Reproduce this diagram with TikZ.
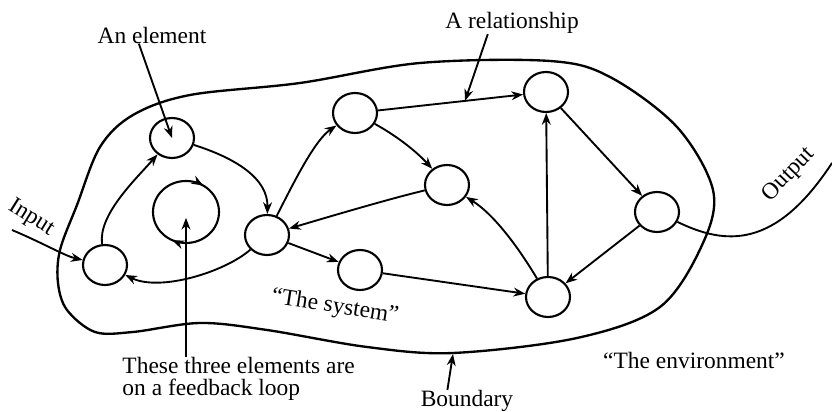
\documentclass[tikz,border=0pt]{standalone}
\usepackage{fontspec}
\setmainfont{Liberation Serif}
\usetikzlibrary{arrows.meta,shapes.geometric,calc,decorations.markings}

\begin{document}
\begin{tikzpicture}[x=0.015cm,y=-0.015cm,
  elem/.style={draw,ellipse,line width=0.9pt,minimum width=0.66cm,minimum height=0.6cm,inner sep=0pt},
  rel/.style={line width=0.8pt,-{Stealth[length=5pt,width=3.8pt]}},
  lbl/.style={inner sep=0pt,font=\fontsize{10}{9.5}\selectfont}]
\useasboundingbox (0,0) rectangle (832,412);
\draw[line width=1pt] plot[smooth cycle,tension=0.55] coordinates {(60,250) (77,205) (100,147) (133,115) (190,95) (300,83) (420,63) (550,61) (610,77) (677,127) (713,190) (703,243) (660,307) (577,338) (453,353) (367,347) (267,330) (200,323) (133,332) (95,332) (67,310) (58,283)};
\node[elem] (in) at (105,265) {};
\node[elem] (el) at (172,138) {};
\node[elem] (hub) at (267,235) {};
\node[elem] (e1) at (355,113) {};
\node[elem] (e2) at (447,185) {};
\node[elem] (e3) at (360,270) {};
\node[elem] (e4) at (546,92) {};
\node[elem] (e5) at (657,212) {};
\node[elem] (e6) at (548,297) {};
\coordinate (loop) at (186,212);
\draw[line width=0.9pt,postaction={decorate},decoration={markings,
  mark=at position 0.32 with {\arrow{Stealth[length=5pt,width=3.8pt]}},
  mark=at position 0.84 with {\arrow{Stealth[length=5pt,width=3.8pt]}}}]
  (loop) circle[x radius=33,y radius=31];
\coordinate (src) at (12,230);
\coordinate (sink) at (832,163);
\coordinate (bndpt) at (453,354);
\draw[rel] (src) .. controls (45,244) and (65,256) .. (in);
\draw[rel] (in) .. controls (98,215) and (135,180) .. (el);
\draw[rel] (el) .. controls (235,158) and (268,178) .. (hub);
\draw[rel] (hub) .. controls (225,272) and (160,292) .. (in);
\draw[rel] (hub) .. controls (295,180) and (315,140) .. (e1);
\draw[rel] (e2) .. controls (385,200) and (325,218) .. (hub);
\draw[rel] (e1) .. controls (395,135) and (415,150) .. (e2);
\draw[rel] (e1) -- coordinate[pos=0.6] (relpt) (e4);
\draw[rel] (hub) -- (e3);
\draw[rel] (e3) -- (e6);
\draw[rel] (e6) .. controls (520,250) and (495,215) .. (e2);
\draw[rel] (e6) -- (e4);
\draw[rel] (e4) -- (e5);
\draw[rel] (e5) -- (e6);
\draw[line width=0.8pt] (e5) .. controls (725,245) and (775,250) .. (sink);
\node[lbl] (ellbl) at (152,35) {An element};
\draw[rel] ($(ellbl.south west)!0.38!(ellbl.south east)$) -- (el.center);
\node[lbl] (rellbl) at (512,23) {A relationship};
\draw[rel] ($(rellbl.south west)!0.32!(rellbl.south east)$) -- (relpt);
\node[lbl] (bndlbl) at (467,401) {Boundary};
\draw[rel] ($(bndlbl.north west)!0.29!(bndlbl.north east)$) -- (bndpt);
\node[lbl,align=left,anchor=north west] (fblbl) at (122,357) {These three elements are\\on a feedback loop};
\draw[rel,shorten >=2.5pt] (fblbl.north -| loop) -- (loop);
\node[lbl,rotate=-9] (sys) at (335,307) {``The system''};
\node[lbl] (env) at (694,360) {``The environment''};
\node[lbl,rotate=-32] (inlbl) at (31,218) {Input};
\node[lbl,rotate=46] (outlbl) at (789,175) {Output};
\end{tikzpicture}
\end{document}
